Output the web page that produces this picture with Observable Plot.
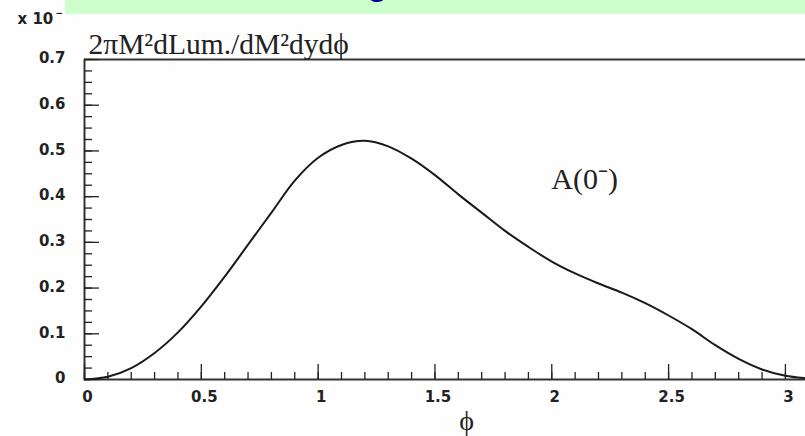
<!DOCTYPE html>
<html>
<head>
<meta charset="utf-8">
<script src="https://cdn.jsdelivr.net/npm/d3@7"></script>
<script src="https://cdn.jsdelivr.net/npm/@observablehq/plot@0.6"></script>
<style>
  html, body { margin: 0; padding: 0; background: #fefefe; overflow: hidden; }
  #wrap { position: relative; width: 805px; height: 436px; overflow: hidden; }
  #banner { position: absolute; left: 65px; top: 0; width: 740px; height: 14px; background: #ccffcc; overflow: hidden; }
  #banner span { position: absolute; left: 302px; top: -36px; font: bold 34px "Liberation Sans", Arial, sans-serif; color: #000099; }
  svg { display: block; }
</style>
</head>
<body>
<div id="wrap">
  <div id="chart"></div>
  <div id="banner"><span>g</span></div>
</div>
<script>
// φ grid and the luminosity density (in units of 10⁻ⁿ)
const phi = [0, 0.1, 0.2, 0.3, 0.4, 0.5, 0.6, 0.7, 0.8, 0.9, 1.0, 1.1, 1.2, 1.3, 1.4, 1.5,
             1.6, 1.7, 1.8, 1.9, 2.0, 2.1, 2.2, 2.3, 2.4, 2.5, 2.6, 2.7, 2.8, 2.9, 3.0, 3.1, 3.14159];
const lum = [0, 0.006, 0.025, 0.058, 0.103, 0.16, 0.225, 0.295, 0.365, 0.435, 0.485, 0.513, 0.522,
             0.51, 0.483, 0.447, 0.405, 0.365, 0.325, 0.29, 0.258, 0.232, 0.21, 0.19, 0.167, 0.14,
             0.11, 0.075, 0.045, 0.022, 0.008, 0.002, 0];

// axis ticks and labels
const xMajor = [0, 0.5, 1, 1.5, 2, 2.5, 3];
const xLabels = ["0", "0.5", "1", "1.5", "2", "2.5", "3"];
const xMinor = d3.range(0, 3.11, 0.1);
const yMajor = [0, 0.1, 0.2, 0.3, 0.4, 0.5, 0.6, 0.7];
const yLabels = ["0", "0.1", "0.2", "0.3", "0.4", "0.5", "0.6", "0.7"];
const yMinor = d3.range(0, 0.7001, 0.025);

const yTitle = "2πM²dLum./dM²dydϕ";
const xTitle = "ϕ";
const curveLabel = "A(0⁻)";

const xDomain = [0, Math.PI], xRange = [84, 818];
const yDomain = [0, 0.7], yRange = [379, 59];
const sx = d3.scaleLinear(xDomain, xRange);
const sy = d3.scaleLinear(yDomain, yRange);
// tick lengths in pixels, converted to data units
const dxUnits = px => sx.invert(xRange[0] + px) - xDomain[0];
const dyUnits = px => sy.invert(yRange[0] - px) - yDomain[0];

const points = phi.map((p, i) => ({phi: p, lum: lum[i]}));
const labelFont = "'DejaVu Sans', Arial, sans-serif";
const serif = "'Liberation Serif', 'Times New Roman', serif";
const tickText = {fontFamily: labelFont, fontSize: 15, fontWeight: "bold", fill: "#222"};

const chart = Plot.plot({
  width: 805,
  height: 436,
  x: {domain: xDomain, range: xRange, axis: null},
  y: {domain: yDomain, range: yRange, axis: null},
  style: {background: "transparent", overflow: "visible"},
  marks: [
    // frame
    Plot.ruleX([xDomain[0], xDomain[1]], {y1: yDomain[0], y2: yDomain[1], stroke: "#333", strokeWidth: 2}),
    Plot.ruleY([yDomain[0], yDomain[1]], {x1: xDomain[0], x2: xDomain[1], stroke: "#333", strokeWidth: 2}),
    // inward ticks
    Plot.ruleY(yMinor, {x1: 0, x2: dxUnits(8), stroke: "#222", strokeWidth: 1.3}),
    Plot.ruleY(yMajor, {x1: 0, x2: dxUnits(15), stroke: "#222", strokeWidth: 1.3}),
    Plot.ruleX(xMinor, {y1: 0, y2: dyUnits(7), stroke: "#222", strokeWidth: 1.3}),
    Plot.ruleX(xMajor, {y1: 0, y2: dyUnits(15), stroke: "#222", strokeWidth: 1.3}),
    // tick labels
    Plot.text(yMajor, {x: 0, y: d => d, text: (d, i) => yLabels[i], dx: -19, dy: -1, textAnchor: "end", ...tickText}),
    Plot.text(xMajor, {x: d => d, y: 0, text: (d, i) => xLabels[i], dy: 18, dx: 3, ...tickText}),
    // the curve
    Plot.line(points, {x: "phi", y: "lum", curve: "catmull-rom", stroke: "#1a1a1a", strokeWidth: 2}),
    // titles and annotation
    Plot.text([yTitle], {x: 0, y: 0.7, dx: 4, dy: -6, textAnchor: "start", lineAnchor: "bottom",
      fontFamily: serif, fontSize: 29.5, fill: "#222"}),
    Plot.text([xTitle], {x: 1.635, y: 0, dy: 42, fontFamily: serif, fontSize: 28, fill: "#222"}),
    Plot.text([curveLabel], {x: 1.998, y: 0.416, textAnchor: "start", lineAnchor: "bottom",
      fontFamily: serif, fontSize: 30, fill: "#222"}),
    // exponent note
    Plot.text(["x 10"], {x: 0, y: 0.7, dx: -67, dy: -40, textAnchor: "start", ...tickText}),
    Plot.text(["−"], {x: 0, y: 0.7, dx: -29, dy: -46, textAnchor: "start", fontFamily: labelFont, fontSize: 9, fontWeight: "bold", fill: "#222"}),
    // superscripts of the next text line, cut by the bottom edge
    Plot.text(["2", "2"], {x: [0.3, 0.91], y: [0, 0], dy: 62, fontFamily: serif, fontSize: 16, fill: "#222"})
  ]
});
document.getElementById("chart").append(chart);
</script>
</body>
</html>
